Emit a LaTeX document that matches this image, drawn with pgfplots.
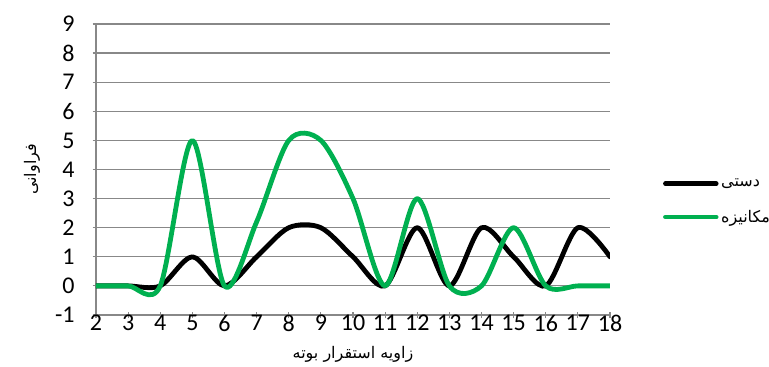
\documentclass[border=0pt]{standalone}
\usepackage{pgfplots}
\pgfplotsset{compat=1.18}
\usepackage{fontspec}
\setmainfont{Carlito}
\newfontfamily\arabicfont[Script=Arabic]{DejaVu Sans}
\TeXXeTstate=1
\definecolor{exgreen}{HTML}{00B050}
\definecolor{gridgray}{HTML}{888888}
\begin{document}
\begin{tikzpicture}
\useasboundingbox (0,0) rectangle (576.75pt,275.25pt);
\begin{axis}[
  at={(72pt,39pt)}, anchor=south west,
  scale only axis, width=385.5pt, height=218.25pt,
  xmin=2, xmax=18, ymin=-1, ymax=9,
  xtick={2,...,18}, ytick={-1,...,9},
  axis x line=bottom, axis y line=left,
  axis line style={draw=gridgray, line width=0.9pt, -},
  ymajorgrids, grid style={draw=gridgray, line width=0.9pt},
  tick style={draw=gridgray, line width=0.9pt},
  major tick length=5pt,
  xtick pos=bottom, ytick pos=left,
  /pgf/number format/assume math mode=true,
  tick label style={font=\fontsize{18}{20}\selectfont},
  xticklabel style={yshift=6pt},
  yticklabel style={xshift=-10pt},
  xlabel={\arabicfont\beginR زاویه استقرار بوته\endR},
  ylabel={\arabicfont\beginR فراوانی\endR},
  label style={font=\fontsize{12}{14}\selectfont},
  xlabel style={at={(axis description cs:0.5,-0.137)}, anchor=center},
  ylabel style={at={(axis description cs:-0.1245,0.5)}, anchor=center},
  legend style={at={(axis description cs:1.095,0.39)}, anchor=west, draw=none,
    font=\fontsize{12}{14}\selectfont, row sep=12pt, fill=none},
  legend cell align=left,
  legend image code/.code={\draw[#1] (0pt,0pt) -- (38pt,0pt);},
]
\addplot[black, line width=3.6pt, line cap=round, line join=round, smooth, tension=0.5] coordinates {
(2,0) (3,0) (4,0) (5,1) (6,0) (7,1) (8,2) (9,2) (10,1) (11,0) (12,2) (13,0) (14,2) (15,1) (16,0) (17,2) (18,1)};
\addlegendentry{\arabicfont\beginR دستی\endR}
\addplot[exgreen, line width=3.6pt, line cap=round, line join=round, smooth, tension=0.5] coordinates {
(2,0) (3,0) (4,0) (5,5) (6,0) (7,2.2) (8,5) (9,5) (10,3) (11,0) (12,3) (13,0) (14,0) (15,2) (16,0) (17,0) (18,0)};
\addlegendentry{\arabicfont\beginR مکانیزه\endR}
\end{axis}
\end{tikzpicture}
\end{document}
